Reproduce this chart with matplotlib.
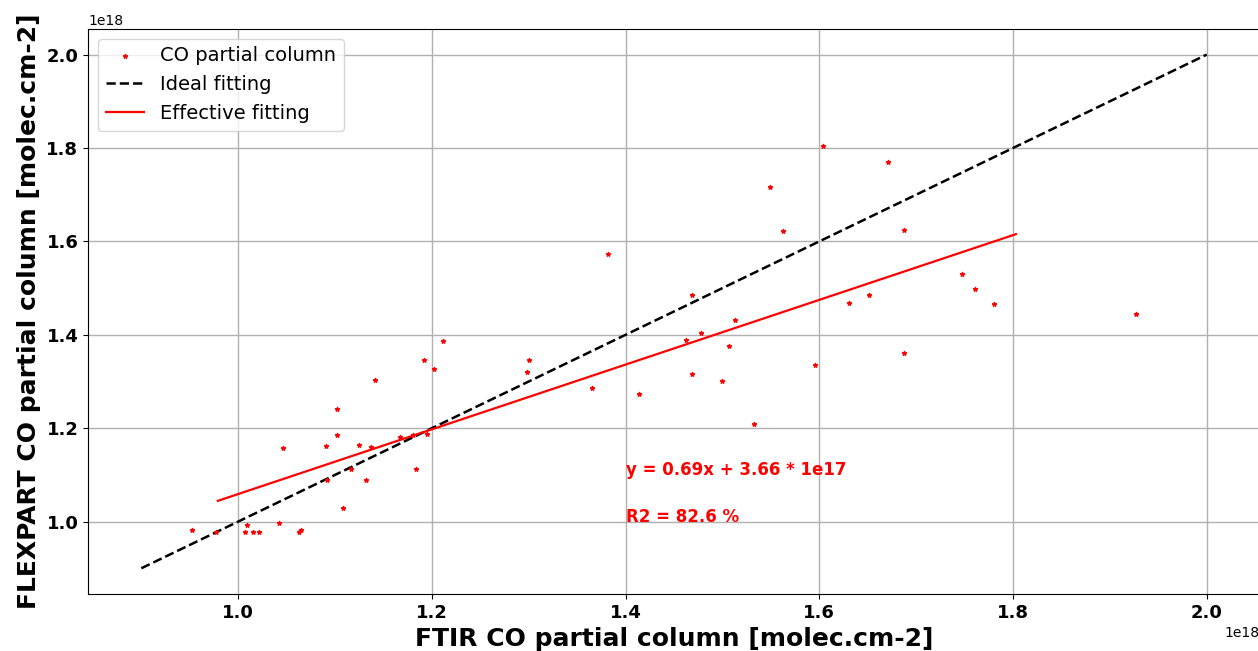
import matplotlib.pyplot as plt
import numpy as np

# FTIR vs FLEXPART CO partial columns (units of 1e18 molec.cm-2)
ftir = [0.952, 0.977, 1.0075, 1.0086, 1.0158, 1.022, 1.042, 1.0626, 1.0653,
        1.0464, 1.091, 1.102, 1.102, 1.092, 1.108, 1.116, 1.125, 1.132,
        1.137, 1.141, 1.167, 1.180, 1.184, 1.192, 1.195, 1.202, 1.211,
        1.2986, 1.3006, 1.365, 1.382, 1.414, 1.462, 1.469, 1.469, 1.478,
        1.4995, 1.507, 1.513, 1.533, 1.549, 1.563, 1.596, 1.604, 1.631,
        1.651, 1.671, 1.687, 1.687, 1.747, 1.761, 1.780, 1.927]
flexpart = [0.981, 0.977, 0.977, 0.992, 0.977, 0.977, 0.996, 0.977, 0.981,
            1.157, 1.161, 1.242, 1.185, 1.089, 1.030, 1.112, 1.165, 1.089,
            1.159, 1.303, 1.182, 1.186, 1.113, 1.347, 1.187, 1.327, 1.386,
            1.320, 1.347, 1.285, 1.574, 1.274, 1.388, 1.486, 1.315, 1.403,
            1.300, 1.377, 1.431, 1.209, 1.716, 1.622, 1.335, 1.804, 1.467,
            1.486, 1.771, 1.624, 1.362, 1.530, 1.497, 1.465, 1.445]

ideal_x = [0.9, 2.0]
fit_x = [0.979, 1.803]
pente = 0.693
origine = 0.366

x = np.array(ftir) * 1e18
y = np.array(flexpart) * 1e18
ix = np.array(ideal_x) * 1e18
fx = np.array(fit_x) * 1e18
fy = pente * fx + origine * 1e18

fig = plt.figure(figsize=(12.58, 6.51), dpi=100)
ax = fig.add_axes([0.07, 0.0876, 0.9316, 0.868])

ax.scatter(x, y, c="r", marker="*", s=9, label="CO partial column", zorder=3)
ax.plot(ix, ix, "k--", lw=1.8, label="Ideal fitting")
ax.plot(fx, fy, "r-", lw=1.6, label="Effective fitting")

ax.text(1.4e18, 1.1e18, "y = 0.69x + 3.66 * 1e17", color="r",
        fontsize=12, fontweight="bold")
ax.text(1.4e18, 1.0e18, "R2 = 82.6 %", color="r",
        fontsize=12, fontweight="bold")

ax.set_xlabel("FTIR CO partial column [molec.cm-2]", fontsize=18, fontweight="bold")
ax.set_ylabel("FLEXPART CO partial column [molec.cm-2]", fontsize=18, fontweight="bold")
for lab in ax.get_xticklabels() + ax.get_yticklabels():
    lab.set_fontsize(13)
    lab.set_fontweight("bold")
ax.grid(True, lw=1)
ax.legend(loc="upper left", fontsize=14)

fig.savefig("out.png", dpi=100)
